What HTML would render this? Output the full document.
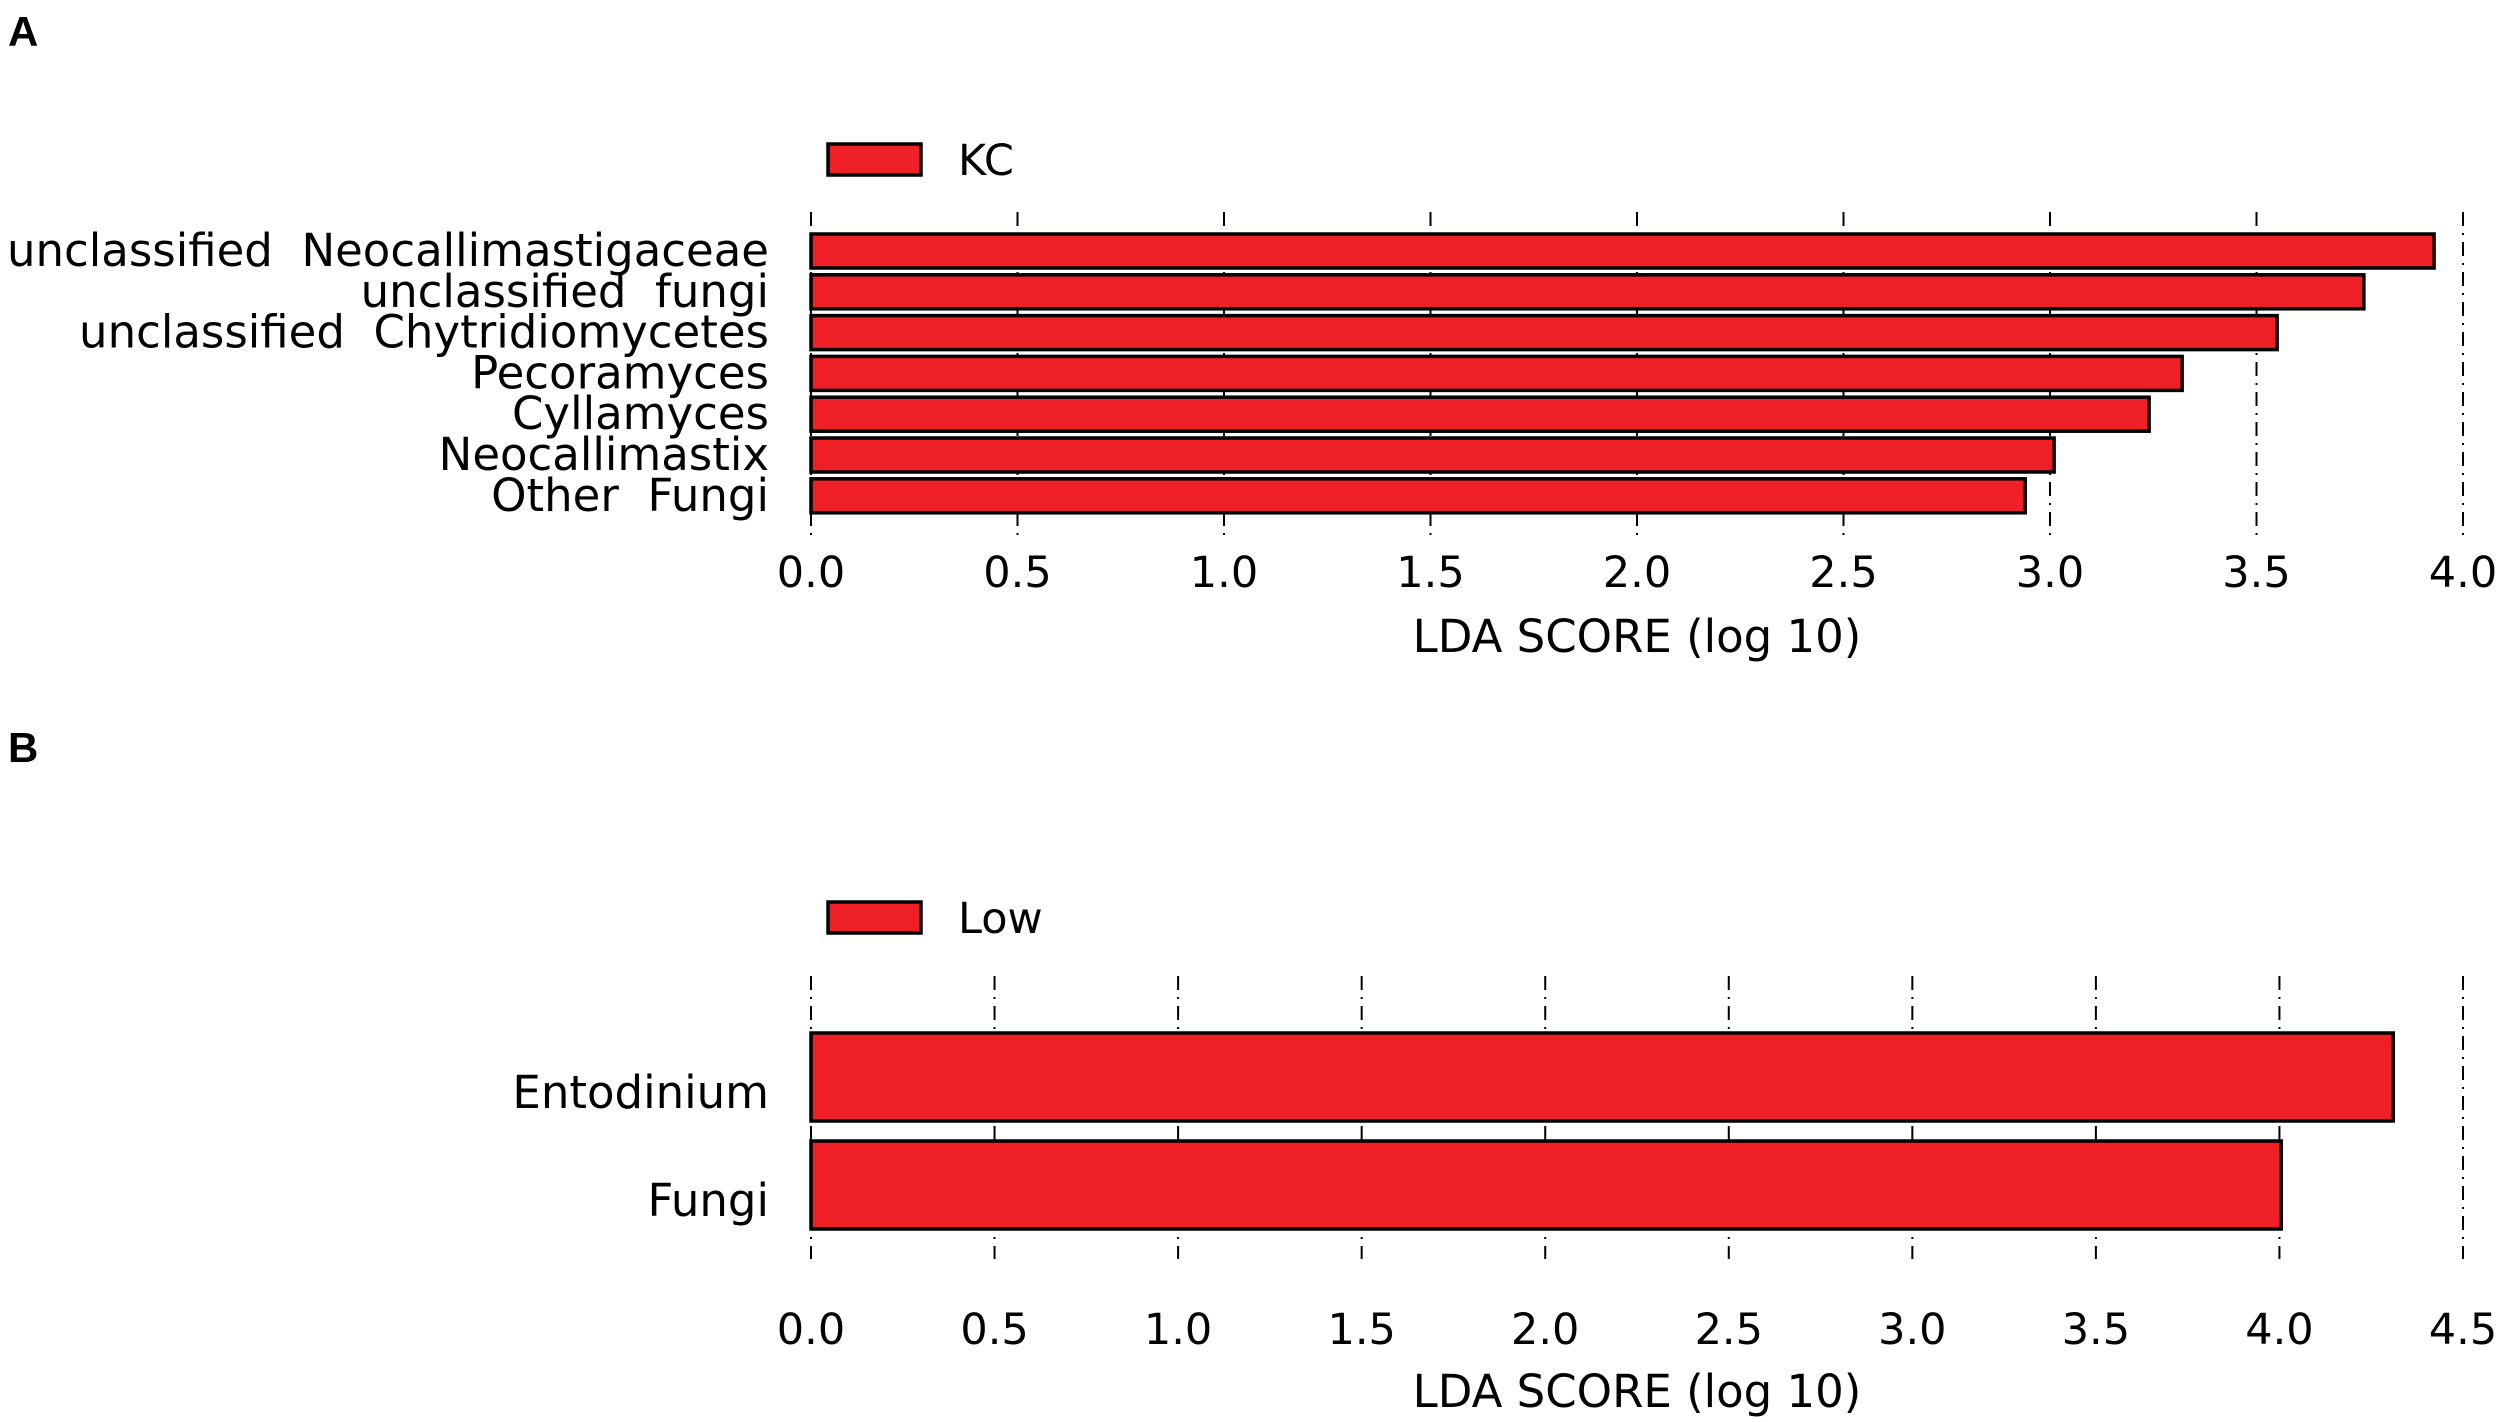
<!DOCTYPE html>
<html><head><meta charset="utf-8">
<style>
html,body{margin:0;padding:0;background:#fff;}
svg{display:block;font-family:"DejaVu Sans","Liberation Sans",sans-serif;}
.pre{white-space:pre;}
</style></head>
<body>
<svg id="chart" width="2500" height="1422" viewBox="0 0 2500 1422" xmlns="http://www.w3.org/2000/svg">
<text x="8" y="46" font-size="42" font-weight="bold" font-family="Liberation Sans, sans-serif">A</text>
<text x="8" y="762" font-size="42" font-weight="bold" font-family="Liberation Sans, sans-serif">B</text>
<g id="pa"></g>
<g id="pb"></g>
</svg>
<script>
const catsA = ["unclassified  Neocallimastigaceae","unclassified  fungi","unclassified  Chytridiomycetes","Pecoramyces","Cyllamyces","Neocallimastix","Other  Fungi"];
const valsA = [3.93,3.76,3.55,3.32,3.24,3.01,2.94];
const ticksA = ["0.0","0.5","1.0","1.5","2.0","2.5","3.0","3.5","4.0"];
const legendA = "KC";
const catsB = ["Entodinium","Fungi"];
const valsB = [4.31,4.005];
const ticksB = ["0.0","0.5","1.0","1.5","2.0","2.5","3.0","3.5","4.0","4.5"];
const legendB = "Low";

const NS="http://www.w3.org/2000/svg";
function mk(tag,attrs,parent){const e=document.createElementNS(NS,tag);for(const k in attrs)e.setAttribute(k,attrs[k]);parent.appendChild(e);return e;}

function panel(g,cats,vals,ticks,legend,cfg){
  const x0=811,x1=2463,maxv=parseFloat(ticks[ticks.length-1]);
  const sx=v=>x0+(v/maxv)*(x1-x0);
  const lb=mk('rect',{x:828,y:cfg.legY,width:93,height:31,fill:'#ee1f26',stroke:'#000','stroke-width':3.5},g);
  
  
  const lt=mk('text',{x:958,y:cfg.legY+31,'font-size':43},g);lt.textContent=legend;
  
  
  ticks.forEach((t,i)=>{
    const x=sx(parseFloat(t));
    const gl=mk('line',{x1:x,x2:x,y1:cfg.gTop,y2:cfg.gBot,stroke:'#000','stroke-width':2,'stroke-dasharray':'14 7 2 7'},g);
    
    
    const tl=mk('text',{x:x,y:cfg.tickY,'font-size':43,'text-anchor':'middle'},g);tl.textContent=t;
    
    
  });
  cats.forEach((c,i)=>{
    const y=cfg.firstTop+i*cfg.step;
    const r=mk('rect',{x:x0,y:y,width:sx(vals[i])-x0,height:cfg.barH,fill:'#ee1f26',stroke:'#000','stroke-width':3.5},g);
    
    
    const tx=mk('text',{x:769,y:y+cfg.barH/2+cfg.labDy,'font-size':cfg.labFs,'text-anchor':'end','class':'pre'},g);tx.textContent=c;
    
    
  });
  const at=mk('text',{x:1637,y:cfg.titleY,'font-size':45,'text-anchor':'middle'},g);at.textContent="LDA SCORE (log 10)";
  
  
}
panel(document.getElementById('pa'),catsA,valsA,ticksA,legendA,{legY:144,gTop:212,gBot:542,firstTop:234,step:40.8,barH:34,tickY:587,titleY:652,labFs:45,labDy:15});
panel(document.getElementById('pb'),catsB,valsB,ticksB,legendB,{legY:902,gTop:976,gBot:1259,firstTop:1033,step:108,barH:88,tickY:1344,titleY:1407,labFs:45,labDy:31});
</script>
</body></html>
